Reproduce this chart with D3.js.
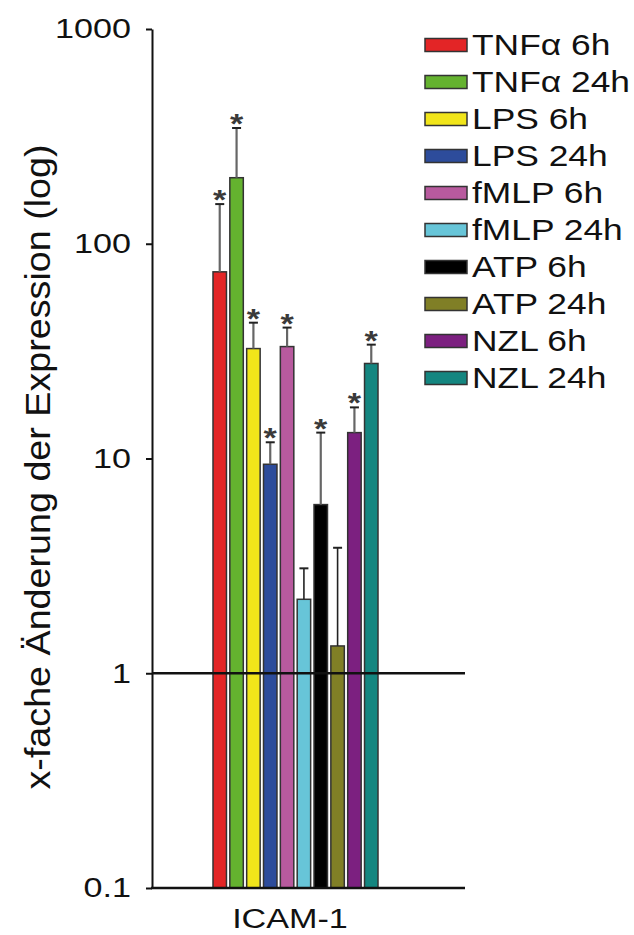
<!DOCTYPE html>
<html lang="de">
<head>
<meta charset="UTF-8">
<title>ICAM-1 x-fache Änderung</title>
<script src="https://cdn.jsdelivr.net/npm/d3@7"></script>
<style>
    body { margin: 0; background: #fff; }
    svg { display: block; background: #fff; }
    text { font-family: "Liberation Sans", Arial, sans-serif; fill: #111; }
</style>
</head>
<body>
<svg id="chart" width="634" height="935"></svg>
<script>
    // data
    const groups = ["TNFα 6h", "TNFα 24h", "LPS 6h", "LPS 24h", "fMLP 6h",
                    "fMLP 24h", "ATP 6h", "ATP 24h", "NZL 6h", "NZL 24h"];
    const means = [74, 203, 32.5, 9.4, 33.2, 2.21, 6.1, 1.34, 13.2, 27.7];
    const errors = [79, 143, 10.4, 2.5, 7.5, 0.87, 7.1, 2.5, 4.1, 6.2];
    const significant = [true, true, true, true, true, false, true, false, true, true];
    const colors = ["#e32526", "#64b22f", "#f1e51a", "#2d4c9b", "#b85a9e",
                    "#67c5d8", "#000000", "#807f26", "#7c2080", "#148680"];
    const yTicks = [0.1, 1, 10, 100, 1000];
    const yTickLabels = ["0.1", "1", "10", "100", "1000"];
    const gene = "ICAM-1";
    const yTitle = "x-fache Änderung der Expression (log)";

    const data = groups.map((g, i) => ({
        group: g, mean: means[i], err: errors[i], sig: significant[i], color: colors[i]
    }));

    const sx = 1.22; // the figure's text is stretched sideways
    const svg = d3.select("#chart");

    const y = d3.scaleLog().domain([0.1, 1000]).range([888, 29]);
    const x = d3.scaleBand().domain(groups).range([213, 378]).paddingInner(0.2).paddingOuter(0);
    const plotLeft = 152, plotRight = 465;

    // y axis
    const yAxis = d3.axisLeft(y)
        .tickValues(yTicks)
        .tickFormat((d, i) => yTickLabels[i])
        .tickSizeInner(6)
        .tickSizeOuter(0)
        .tickPadding(15);
    const gy = svg.append("g")
        .attr("transform", `translate(${plotLeft},0)`)
        .call(yAxis);
    gy.select(".domain").attr("stroke", "#111").attr("stroke-width", 2);
    gy.selectAll(".tick line").attr("stroke", "#111").attr("stroke-width", 2);
    gy.selectAll(".tick text")
        .attr("font-size", 28)
        .attr("fill", "#111")
        .attr("x", -21 / sx)
        .attr("transform", `scale(${sx},1)`);

    // bars
    svg.append("g").selectAll("rect")
        .data(data)
        .enter()
        .append("rect")
        .attr("x", d => x(d.group))
        .attr("y", d => y(d.mean))
        .attr("width", x.bandwidth())
        .attr("height", d => y(0.1) - y(d.mean))
        .attr("fill", d => d.color)
        .attr("stroke", "#333")
        .attr("stroke-width", 1.5);

    // error bars
    const eg = svg.append("g");
    eg.selectAll("line.whisker")
        .data(data)
        .enter()
        .append("line")
        .attr("class", "whisker")
        .attr("x1", d => x(d.group) + x.bandwidth() / 2)
        .attr("x2", d => x(d.group) + x.bandwidth() / 2)
        .attr("y1", d => y(d.mean))
        .attr("y2", d => y(d.mean + d.err))
        .attr("stroke", d => d.sig ? "#666" : "#222")
        .attr("stroke-width", d => d.sig ? 2.2 : 1.6);
    eg.selectAll("line.cap")
        .data(data)
        .enter()
        .append("line")
        .attr("class", "cap")
        .attr("x1", d => x(d.group) + x.bandwidth() / 2 - 4.5)
        .attr("x2", d => x(d.group) + x.bandwidth() / 2 + 4.5)
        .attr("y1", d => y(d.mean + d.err))
        .attr("y2", d => y(d.mean + d.err))
        .attr("stroke", "#222")
        .attr("stroke-width", 2);

    // significance stars
    svg.append("g").selectAll("text")
        .data(data.filter(d => d.sig))
        .enter()
        .append("text")
        .attr("transform", d => `translate(${x(d.group) + x.bandwidth() / 2},${y(d.mean + d.err) + 5}) scale(${sx},1)`)
        .attr("text-anchor", "middle")
        .attr("font-size", 28)
        .attr("font-weight", "bold")
        .style("fill", "#3a3a3a")
        .text("*");

    // reference line at 1 and baseline
    svg.append("line")
        .attr("x1", plotLeft).attr("x2", plotRight)
        .attr("y1", y(1)).attr("y2", y(1))
        .attr("stroke", "#111").attr("stroke-width", 2.5);
    svg.append("line")
        .attr("x1", plotLeft - 1).attr("x2", plotRight)
        .attr("y1", y(0.1)).attr("y2", y(0.1))
        .attr("stroke", "#111").attr("stroke-width", 2.5);

    // category label
    const xc = d3.scaleBand().domain([gene]).range([206, 374]);
    svg.append("text")
        .attr("transform", `translate(${xc(gene) + xc.bandwidth() / 2},928) scale(${sx},1)`)
        .attr("text-anchor", "middle")
        .attr("font-size", 28)
        .text(gene);

    // y title
    svg.append("text")
        .attr("transform", `translate(50,467) scale(${sx},1) rotate(-90)`)
        .attr("text-anchor", "middle")
        .attr("font-size", 29)
        .attr("textLength", 645)
        .attr("lengthAdjust", "spacingAndGlyphs")
        .text(yTitle);

    // legend
    const legend = svg.append("g").attr("transform", "translate(425,45)");
    const rows = legend.selectAll("g")
        .data(data)
        .enter()
        .append("g")
        .attr("transform", (d, i) => `translate(0,${i * 37})`);
    rows.append("rect")
        .attr("x", 0).attr("y", -6.5)
        .attr("width", 42).attr("height", 13)
        .attr("fill", d => d.color)
        .attr("stroke", "#333")
        .attr("stroke-width", 1.5);
    rows.append("text")
        .attr("transform", `translate(47,0) scale(${sx},1)`)
        .attr("dy", "0.36em")
        .attr("font-size", 29)
        .text(d => d.group);
</script>
</body>
</html>
